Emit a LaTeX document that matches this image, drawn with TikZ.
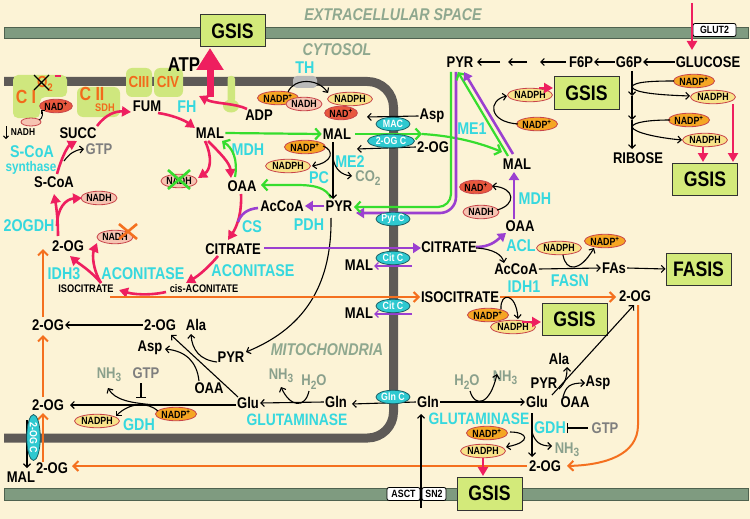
\documentclass[tikz,border=0pt]{standalone}
\usepackage{fontspec}
\setmainfont{Liberation Sans}[FakeStretch=0.84]
\usetikzlibrary{arrows.meta,shapes.geometric}
\definecolor{bgc}{HTML}{FCF3D6}
\definecolor{memG}{HTML}{7F9B80}
\definecolor{memB}{HTML}{4F624F}
\definecolor{mitoG}{HTML}{5E5A57}
\definecolor{boxG}{HTML}{D3EA7A}
\definecolor{cplx}{HTML}{CFE77E}
\definecolor{cyanT}{HTML}{36D8DE}
\definecolor{trF}{HTML}{2EC9D0}
\definecolor{trB}{HTML}{1A6066}
\definecolor{crim}{HTML}{EE1F5F}
\definecolor{grnA}{HTML}{36DD2E}
\definecolor{purp}{HTML}{9B3FD0}
\definecolor{oran}{HTML}{F4701F}
\definecolor{grayG}{HTML}{8AA08C}
\definecolor{grayT}{HTML}{7E7E7E}
\definecolor{nadpO}{HTML}{F5A623}
\definecolor{nadphY}{HTML}{F8E38A}
\definecolor{nadhP}{HTML}{F6C4B2}
\definecolor{nadR}{HTML}{E8583E}
\definecolor{ellB}{HTML}{C8444A}
\definecolor{cplxT}{HTML}{F26A1B}
\definecolor{lblG}{HTML}{8FA88F}
\newcommand\txtL{\fontsize{15.5}{17}\selectfont\bfseries}
\newcommand\txtS{\fontsize{11}{12}\selectfont\bfseries}
\newcommand\txtC{\fontsize{17}{18}\selectfont\bfseries}
\newcommand\txtE{\fontsize{10.5}{11}\selectfont\bfseries}
\newcommand\txtG{\fontsize{21}{22}\selectfont\bfseries}
\newcommand\txtT{\fontsize{10.5}{11}\selectfont\bfseries}
\newcommand\txtI{\fontsize{17}{18}\selectfont\bfseries\itshape}
\newcommand\mysub[1]{\raisebox{-0.4ex}{\fontsize{12}{12}\selectfont #1}}
\begin{document}
\begin{tikzpicture}[x=1pt,y=-1pt,
  lb/.style={font=\txtL,inner sep=1pt},
  sm/.style={font=\txtS,inner sep=1pt},
  cy/.style={font=\txtC,text=cyanT,inner sep=1pt},
  gy/.style={font=\txtL,text=grayG,inner sep=1pt},
  gt/.style={font=\txtL,text=grayT,inner sep=1pt},
  elb/.style={ellipse,draw=ellB,line width=0.8pt,inner sep=0pt,font=\txtE,minimum height=13.5pt},
  nadp/.style={elb,fill=nadpO,minimum width=39pt},
  nadph/.style={elb,fill=nadphY,minimum width=45pt},
  nadh/.style={elb,fill=nadhP,minimum width=35pt},
  nadr/.style={elb,fill=nadR,minimum width=31pt},
  tr/.style={ellipse,fill=trF,draw=trB,line width=0.8pt,inner sep=0pt,text=white,font=\txtT,minimum width=34pt,minimum height=13.5pt},
  gsis/.style={rectangle,fill=boxG,draw=black!80,line width=1pt,font=\txtG,minimum width=65pt,minimum height=32pt,inner sep=0pt},
  wbox/.style={rectangle,rounded corners=2pt,fill=white,draw=black,line width=0.8pt,font=\txtT,inner sep=0pt,minimum height=13pt},
  aBlk/.style={draw=black,line width=1.1pt,-{Straight Barb[length=3.5pt,width=7pt]}},
  aRed/.style={draw=crim,line width=2.6pt,-{Triangle[length=9pt,width=10pt]}},
  aGrn/.style={draw=grnA,line width=2.2pt,-{Straight Barb[length=5pt,width=11pt]}},
  aPur/.style={draw=purp,line width=2.6pt,-{Triangle[length=8pt,width=10pt]}},
  aPurT/.style={draw=purp,line width=1.4pt,-{Straight Barb[length=3.5pt,width=7pt]}},
  aOrg/.style={draw=oran,line width=2pt,-{Straight Barb[length=5pt,width=10pt]}},
  inh/.style={draw=black,line width=1.3pt,-{Bar[width=10pt]}}
]
\useasboundingbox (0,0) rectangle (750,519);
\fill[bgc] (0,0) rectangle (750,519);
% membranes
\filldraw[fill=memG,draw=memB,line width=0.6pt] (4,27) rectangle (748,38);
\filldraw[fill=memG,draw=memB,line width=0.6pt] (4,488) rectangle (748,500);
\draw[mitoG,line width=9pt,rounded corners=26pt] (4,81.5) -- (393.5,81.5) -- (393.5,438) -- (4,438);
% complexes
\fill[cplx,rounded corners=5pt] (13,75) -- (67,75) -- (67,97) -- (40,97) -- (40,118) -- (13,118) -- cycle;
\fill[cplx,rounded corners=6pt] (77,87) rectangle (120,117);
\fill[cplx,rounded corners=6pt] (126,68) rectangle (152,97);
\fill[cplx,rounded corners=6pt] (154,68) rectangle (183,97);
\fill[cplx,rounded corners=3pt] (227.5,76) rectangle (235,102);
\fill[cplx] (231,106) ellipse (8 and 6.5);
\fill[gray!55,rounded corners=4pt] (293,76) rectangle (317,88);
\node[font=\fontsize{19}{19}\selectfont\bfseries,text=cplxT] (CI) at (26,97) {C I};
\node[font=\fontsize{19}{19}\selectfont\bfseries,text=cplxT] (CII) at (92,94) {C II};
\node[font=\fontsize{11}{11}\selectfont\bfseries,text=cplxT] (SDH) at (105,108) {SDH};
\node[font=\fontsize{16}{16}\selectfont\bfseries,text=cplxT] (CIII) at (139,82) {CIII};
\node[font=\fontsize{16}{16}\selectfont\bfseries,text=cplxT] (CIV) at (168,82) {CIV};
\node[font=\fontsize{16}{16}\selectfont\bfseries,text=cplxT,inner sep=0pt] (O2) at (45,84) {O\raisebox{-0.5ex}{\fontsize{11}{11}\selectfont 2}};
\draw[crim,line width=1.6pt] (55,76) -- (61,76);
\draw[black,line width=1.4pt] (34,75) -- (49,90) (34,90) -- (49,75);
% region labels
\node[font=\txtI,text=lblG] (ext) at (393,15) {EXTRACELLULAR SPACE};
\node[font=\txtI,text=lblG] (cyt) at (337,50) {CYTOSOL};
\node[font=\txtI,text=lblG] (mit) at (327,350) {MITOCHONDRIA};
% GSIS boxes
\node[gsis] (G1) at (232.5,31) {GSIS};
\node[gsis] (G2) at (586.5,93) {GSIS};
\node[gsis] (G3) at (705,179.5) {GSIS};
\node[gsis] (FASIS) at (698.5,269) {FASIS};
\node[gsis] (G4) at (574.5,319) {GSIS};
\node[gsis,minimum height=33pt] (G5) at (489.5,493.5) {GSIS};
\node[wbox,minimum width=43pt] (GLUT2) at (714.5,30) {GLUT2};
\node[wbox,minimum width=33pt] (ASCT) at (403.5,494) {ASCT};
\node[wbox,minimum width=24pt] (SN2) at (434,494) {SN2};
% black labels
\node[lb] (FUM) at (147,106) {FUM};
\node[lb] (SUCC) at (78,133) {SUCC};
\node[lb] (MALk) at (210,133) {MAL};
\node[lb] (SCoA) at (54,182) {S-CoA};
\node[lb] (OAAk) at (242,186) {OAA};
\node[lb] (OGk) at (68,246) {2-OG};
\node[lb] (CITm) at (233,249) {CITRATE};
\node[sm] (ISOm) at (86,289) {ISOCITRATE};
\node[sm] (cisA) at (204,289) {cis-ACONITATE};
\node[lb] (MALm) at (337,134) {MAL};
\node[lb] (PYRm) at (339,206) {PYR};
\node[lb] (ACm) at (282,206) {AcCoA};
\node[lb] (ADP) at (259,115) {ADP};
\node[font=\fontsize{20}{20}\selectfont\bfseries] (ATP) at (184,65) {ATP};
\node[lb] (Aspc) at (432,116) {Asp};
\node[lb] (OGc) at (433,147) {2-OG};
\node[lb] (PYRc) at (460,62) {PYR};
\node[lb] (F6P) at (581,62) {F6P};
\node[lb] (G6P) at (629,62) {G6P};
\node[lb] (GLC) at (708,62) {GLUCOSE};
\node[lb] (RIB) at (638,158) {RIBOSE};
\node[lb] (MALc) at (517,164) {MAL};
\node[lb] (OAAc) at (520,226) {OAA};
\node[lb] (CITc) at (449,247) {CITRATE};
\node[lb] (ACc) at (516,269) {AcCoA};
\node[lb] (FAs) at (614,268) {FAs};
\node[lb] (MALt1) at (359,265) {MAL};
\node[lb] (MALt2) at (359,313) {MAL};
\node[lb] (ISOc) at (460,297) {ISOCITRATE};
\node[lb] (OGc2) at (635,296) {2-OG};
\node[lb] (OG2) at (48,325) {2-OG};
\node[lb] (OG3) at (160,325) {2-OG};
\node[lb] (Alam) at (196,325) {Ala};
\node[lb] (Aspm) at (150,348) {Asp};
\node[lb] (PYRm2) at (231,357) {PYR};
\node[lb] (OAAm2) at (209,388) {OAA};
\node[lb] (Glum) at (248,403) {Glu};
\node[lb] (OG4) at (48,405) {2-OG};
\node[lb] (Glnm) at (336,402) {Gln};
\node[lb] (Glnc) at (428,402) {Gln};
\node[lb] (Gluc) at (537,402) {Glu};
\node[lb] (Alac) at (559,359) {Ala};
\node[lb] (PYRc2) at (544,383) {PYR};
\node[lb] (Aspc2) at (598,383) {Asp};
\node[lb] (OAAc2) at (575,402) {OAA};
\node[lb] (OG5) at (545,466) {2-OG};
\node[lb] (OG6) at (52,468) {2-OG};
\node[lb] (MALb) at (21,477) {MAL};
\node[font=\fontsize{10}{10}\selectfont\bfseries] (nadhdn) at (23,132) {NADH};
% gray labels
\node[gt] (GTPk) at (99,149) {GTP};
\node[gy] (CO2) at (368,178) {CO\mysub{2}};
\node[gy] (NH3a) at (109,375) {NH\mysub{3}};
\node[gt] (GTPa) at (146,373) {GTP};
\node[gy] (NH3b) at (281,376) {NH\mysub{3}};
\node[gy] (H2Ob) at (314,382) {H\mysub{2}O};
\node[gy] (H2Oc) at (467,382) {H\mysub{2}O};
\node[gy] (NH3c) at (505,378) {NH\mysub{3}};
\node[gy] (NH3d) at (567,450) {NH\mysub{3}};
\node[gt] (GTPc) at (605,428) {GTP};
% cyan labels
\node[cy] (SCS1) at (32,152) {S-CoA};
\node[cy,font=\fontsize{14}{14}\selectfont\bfseries] (SCS2) at (31,168) {synthase};
\node[cy] (FH) at (187,107) {FH};
\node[cy] (MDHm) at (248,150) {MDH};
\node[cy] (ME2) at (350,162) {ME2};
\node[cy] (PC) at (319,178) {PC};
\node[cy] (PDH) at (309,225) {PDH};
\node[cy] (CS) at (252,227) {CS};
\node[cy] (OGDH) at (29,226) {2OGDH};
\node[cy] (IDH3) at (64,274) {IDH3};
\node[cy] (ACO1) at (143,274) {ACONITASE};
\node[cy] (ACO2) at (253,271) {ACONITASE};
\node[cy] (TH) at (305,68) {TH};
\node[cy] (ME1) at (472,129) {ME1};
\node[cy] (MDHc) at (535,199) {MDH};
\node[cy] (ACL) at (521,246) {ACL};
\node[cy] (FASN) at (570,281) {FASN};
\node[cy] (IDH1) at (524,287) {IDH1};
\node[cy] (GDHm) at (139,425) {GDH};
\node[cy,font=\fontsize{16.5}{17}\selectfont\bfseries] (GLSm) at (297,420) {GLUTAMINASE};
\node[cy,font=\fontsize{16.5}{17}\selectfont\bfseries] (GLSc) at (479,419) {GLUTAMINASE};
\node[cy] (GDHc) at (550,428) {GDH};
% cofactor ellipses
\node[nadr,minimum width=32pt] (NADci) at (56,106) {NAD\textsuperscript{+}};
\node[ellipse,fill=nadhP,draw=ellB,line width=0.8pt,minimum width=20pt,minimum height=8pt,inner sep=0pt] (nadhci) at (31,122) {};
\node[nadp] (nadpTH) at (278,98) {NADP\textsuperscript{+}};
\node[nadh] (nadhTH) at (304,104) {NADH};
\node[nadph] (nadphTH) at (350,99) {NADPH};
\node[nadr] (nadTH) at (341,113) {NAD\textsuperscript{+}};
\node[nadp] (nadpME2) at (305,147) {NADP\textsuperscript{+}};
\node[nadph] (nadphME2) at (288,166) {NADPH};
\node[nadh] (nadhMDH) at (179,181) {NADH};
\node[nadh] (nadhOG) at (99,198) {NADH};
\node[nadh] (nadhIDH) at (115,237) {NADH};
\node[nadph] (nadphME1) at (530,95) {NADPH};
\node[nadp] (nadpME1) at (537,124) {NADP\textsuperscript{+}};
\node[nadp] (nadpG1) at (694,81) {NADP\textsuperscript{+}};
\node[nadph] (nadphG1) at (713,97) {NADPH};
\node[nadp] (nadpG2) at (689,120) {NADP\textsuperscript{+}};
\node[nadph] (nadphG2) at (705,140) {NADPH};
\node[nadr] (nadMDHc) at (476,187) {NAD\textsuperscript{+}};
\node[nadh] (nadhMDHc) at (481,212) {NADH};
\node[nadph] (nadphF) at (559,248) {NADPH};
\node[nadp] (nadpF) at (605,241) {NADP\textsuperscript{+}};
\node[nadp] (nadpI) at (488,315) {NADP\textsuperscript{+}};
\node[nadph] (nadphI) at (513,327) {NADPH};
\node[nadp] (nadpGm) at (176,414) {NADP\textsuperscript{+}};
\node[nadph] (nadphGm) at (97,421) {NADPH};
\node[nadp] (nadpGc) at (487,433) {NADP\textsuperscript{+}};
\node[nadph] (nadphGc) at (483,451) {NADPH};
% X marks
\draw[grnA,line width=2.6pt] (168,170) -- (190,189) (168,189) -- (190,170);
\draw[oran,line width=2.6pt] (119,224) -- (137,239) (119,239) -- (137,224);
% ---- Krebs cycle (red)
\draw[aRed] (57,174) .. controls (62,156) and (68,146) .. (77,141);
\draw[aBlk] (64,161) .. controls (70,153) and (75,150) .. (84,149);
\draw[aRed] (97,126) .. controls (106,114) and (116,111) .. (131,112);
\draw[aRed] (158,113) .. controls (172,115) and (184,120) .. (195,128);
\draw[aRed] (208,141) .. controls (220,153) and (230,163) .. (231,178);
\draw[aRed] (205,141) .. controls (213,158) and (210,170) .. (198,178);
\draw[aGrn] (235,177) .. controls (238,160) and (233,148) .. (222,141);
\draw[aRed] (241,194) .. controls (242,215) and (236,228) .. (228,240);
\draw[draw=purp,line width=2.6pt] (258,208) .. controls (247,209) and (241,214) .. (238,222);
\draw[aRed] (218,256) .. controls (208,268) and (198,276) .. (186,283);
\draw[aRed] (166,292) .. controls (148,296) and (132,294) .. (119,290);
\draw[aRed] (101,283) .. controls (90,270) and (78,263) .. (70,256);
\draw[aRed] (101,283) .. controls (93,270) and (92,255) .. (97,243);
\draw[aRed] (58,236) .. controls (58,218) and (56,205) .. (54,194);
\draw[aRed] (57,226) .. controls (57,208) and (66,199) .. (82,198);
% ATP
\draw[crim,line width=7pt,-{Triangle[length=22pt,width=26pt]}] (210,97) -- (210,48);
\draw[aRed] (247,109) .. controls (235,103) and (215,104) .. (199,96);
% complex I
\draw[draw=black,line width=0.9pt,-{Straight Barb[length=2.5pt,width=5pt]}] (39,120) .. controls (43,119) and (43,112) .. (41,110);
\draw[draw=black,line width=1pt,-{Straight Barb[length=2.5pt,width=5pt]}] (6,126) -- (6,139);
% TH
\draw[aBlk] (288,92) .. controls (294,78) and (318,78) .. (328,93);
% green
\draw[aGrn] (MALk.east) -- (MALm.west);
\draw[aGrn] (331,198) .. controls (326,188) and (316,185) .. (296,185) -- (261,185);
\draw[aGrn] (355,134) -- (422,134);
\draw[aGrn] (422,134) .. controls (455,136) and (480,143) .. (502,152);
\draw[aPur,rounded corners=16pt] (456,72) -- (456,213) -- (356,213);
\draw[aGrn,rounded corners=13pt] (451,72) -- (451,207) -- (354,207);
\draw[aGrn] (508,156) -- (458,72);
\draw[aPur] (513,154) -- (464,72);
% ME2
\draw[aBlk] (333,142) -- (333,199);
\draw[aBlk] (323,146) .. controls (334,150) and (334,162) .. (312,166);
\draw[aBlk] (333,158) .. controls (335,170) and (342,175) .. (352,176);
% PDH, PYR
\draw[aPur] (PYRm.west) -- (ACm.east);
\draw[aBlk] (331,218) .. controls (332,290) and (300,330) .. (246,352);
% transport
\draw[aBlk] (Aspc.west) -- (367,117);
\draw[aBlk] (OGc.west) -- (357,149);
\draw[aPur] (264,248) -- (421,248);
\draw[aPur] (476,247) .. controls (490,247) and (496,241) .. (506,233);
\draw[aBlk] (476,248) .. controls (494,249) and (502,255) .. (504,263);
\draw[aPurT] (412,266) -- (374,266);
\draw[aPurT] (412,314) -- (374,314);
\draw[aPur] (514,219) -- (514,172);
\draw[aBlk] (497,210) .. controls (516,205) and (516,188) .. (492,186);
% glycolysis / PPP
\draw[aBlk] (500,62) -- (477,62);
\draw[aBlk] (527,62) -- (508,62);
\draw[aBlk] (566,62) -- (540,62);
\draw[aBlk] (G6P.west) -- (F6P.east);
\draw[aBlk] (GLC.west) -- (G6P.east);
\draw[aBlk] (632,71) -- (632,96);
\draw[aBlk] (632,96) -- (632,120);
\draw[aBlk] (632,120) -- (632,149);
\draw[aBlk] (674,81) .. controls (650,81) and (633,82) .. (632,87) .. controls (634,93) and (660,95) .. (690,96);
\draw[aBlk] (670,120) .. controls (650,120) and (633,122) .. (632,127) .. controls (634,133) and (660,138) .. (682,140);
\draw[aRed] (692,3) -- (692,50);
\draw[aRed] (733,104) -- (733,162);
\draw[aRed] (703,147) -- (703,162);
\draw[aBlk] (518,124) .. controls (488,122) and (488,100) .. (507,96);
\draw[aRed] (539,88) -- (553,88);
% FASN
\draw[aBlk] (ACc.east) -- (FAs.west);
\draw[aBlk] (FAs.east) -- (FASIS.west);
\draw[aBlk] (563,255) .. controls (566,272) and (580,272) .. (594,248);
% IDH1 / isocitrate
\draw[aOrg] (110,297) -- (420,297);
\draw[aOrg] (500,297) -- (616,297);
\draw[aBlk] (501,309) .. controls (500,292) and (516,292) .. (518,319);
\draw[aRed] (522,322) -- (541,322);
\draw[aOrg] (638,305) -- (638,425) .. controls (638,455) and (605,465) .. (567,466);
\draw[aOrg] (527,466) -- (72,466);
\draw[aOrg] (43,462) -- (43,413);
\draw[aOrg] (43,397) -- (43,335);
\draw[aOrg] (43,317) -- (43,249);
% mito lower
\draw[aBlk] (OG3.west) -- (OG2.east);
\draw[aBlk] (238,397) -- (171,335);
\draw[aBlk] (217,362) .. controls (200,360) and (192,350) .. (191,334);
\draw[aBlk] (199,381) .. controls (197,362) and (186,351) .. (165,349);
\draw[aBlk] (236,405) -- (70,405);
\draw[inh] (141,383) -- (141,398);
\draw[aBlk] (158,411) .. controls (148,402) and (130,402) .. (116,416);
\draw[aBlk] (156,405) .. controls (130,403) and (115,400) .. (108,388);
\draw[aBlk] (27,420) -- (27,468);
\draw[aBlk] (Glnm.west) -- (Glum.east);
\draw[aBlk] (309,391) .. controls (305,409) and (290,407) .. (281,387);
\draw[aBlk] (Glnc.west) -- (352,404);
\draw[aBlk] (421,508) -- (421,414);
% cytosol lower
\draw[aBlk] (Glnc.east) -- (Gluc.west);
\draw[aBlk] (470,391) .. controls (475,408) and (490,405) .. (497,374);
\draw[aBlk] (532,413) -- (532,457);
\draw[aBlk] (510,432) .. controls (528,432) and (532,442) .. (506,447);
\draw[aBlk] (532,432) .. controls (535,442) and (540,446) .. (552,446);
\draw[inh] (588,428) -- (567,428);
\draw[aBlk] (552,395) -- (634,305);
\draw[aBlk] (559,389) .. controls (566,382) and (567,376) .. (567,367);
\draw[aBlk] (563,397) .. controls (566,386) and (570,383) .. (585,383);
\draw[aRed] (483,458) -- (483,476);
% transporters
\node[tr] (MAC) at (393,124) {MAC};
\node[tr,minimum width=47pt] (OGC) at (391,141) {2-OG C};
\node[tr] (PyrC) at (393,219) {Pyr C};
\node[tr] (CitC1) at (393,258) {Cit C};
\node[tr] (CitC2) at (393,306) {Cit C};
\node[tr] (GlnC) at (393,397) {Gln C};
\node[tr,minimum width=46pt,rotate=-90] (OGC2) at (33.5,437.5) {2-OG C};
\end{tikzpicture}
\end{document}
